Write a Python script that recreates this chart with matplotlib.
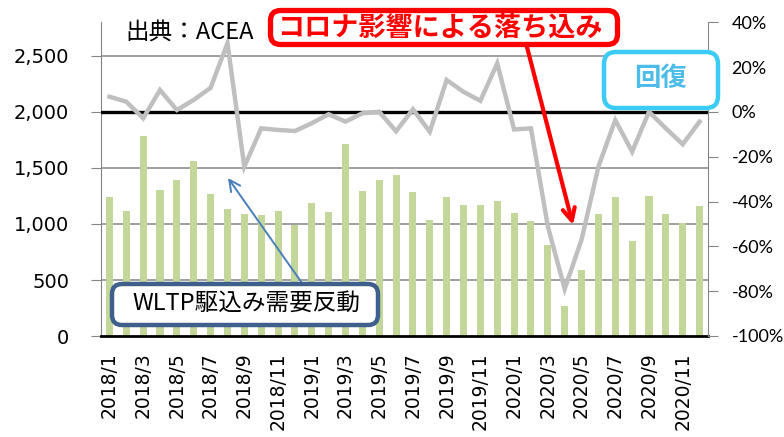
import numpy as np
import matplotlib.pyplot as plt
from matplotlib.patches import FancyBboxPatch

plt.rcParams['font.family'] = ['DejaVu Sans', 'Noto Sans CJK JP']

# 2018/1 .. 2020/12
months = [f'{y}/{m}' for y in (2018, 2019, 2020) for m in range(1, 13)]

# 販売台数 (千台)
sales = [1244, 1119, 1786, 1304, 1393, 1562, 1271, 1131, 1086, 1077, 1116, 991,
         1187, 1107, 1714, 1298, 1393, 1437, 1289, 1036, 1241, 1170, 1167, 1208,
         1098, 1027, 812, 268, 592, 1089, 1241, 848, 1253, 1089, 1009, 1158]

# 前年同月比 (%)
yoy = [6.8, 4.6, -2.8, 9.8, 0.9, 5.4, 10.8, 30.7, -24.4, -7.3, -8.0, -8.5,
       -5.0, -1.0, -4.3, -0.6, 0.1, -8.6, 1.2, -8.8, 14.3, 9.0, 5.0, 21.7,
       -7.8, -7.3, -51.0, -79.0, -57.0, -24.4, -3.6, -17.7, 0.1, -7.3, -14.4, -4.3]

left_ticks = [0, 500, 1000, 1500, 2000, 2500]
right_ticks = [-100, -80, -60, -40, -20, 0, 20, 40]

W, H = 784, 437
fig = plt.figure(figsize=(W / 100, H / 100), dpi=100)
ax = fig.add_axes([101 / W, 1 - 336 / H, 607 / W, 313.6 / H])

x = np.arange(len(months))
ax.bar(x, sales, width=0.42, color='#C4D79B', zorder=2)
ax.set_xlim(-0.5, len(months) - 0.5)
ax.set_ylim(0, 2800)
ax.set_yticks(left_ticks)
ax.set_yticklabels([f'{v:,}' for v in left_ticks], fontsize=14)
for v in left_ticks[1:]:
    if v == 2000:
        ax.axhline(v, color='black', lw=2.4, zorder=3)
    else:
        ax.axhline(v, color='#868686', lw=1.1, zorder=1)

ax.set_xticks(x[::2])
ax.set_xticklabels(months[::2], rotation=90, fontsize=13.5)
ax.tick_params(axis='x', length=0, pad=12)
ax.tick_params(axis='y', length=7, color='#868686', pad=16)
for s in ('top', 'right'):
    ax.spines[s].set_visible(False)
ax.spines['left'].set_color('#868686')
ax.spines['bottom'].set_color('black')
ax.spines['bottom'].set_linewidth(2)

ax2 = ax.twinx()
ax2.plot(x, yoy, color='#BFBFBF', lw=3.2, solid_joinstyle='miter', zorder=4)
ax2.set_ylim(-100, 40)
ax2.set_yticks(right_ticks)
ax2.set_yticklabels([f'{v}%' for v in right_ticks], fontsize=13, family=['Lato', 'DejaVu Sans'])
ax2.tick_params(axis='y', length=7, color='#868686', pad=10)
for s in ('top', 'left', 'bottom'):
    ax2.spines[s].set_visible(False)
ax2.spines['right'].set_color('#868686')

jp = ['Noto Sans CJK JP', 'DejaVu Sans']


def box(x0, y0, x1, y1, ec, lw, r):
    p = FancyBboxPatch((x0 / 100, (H - y1) / 100), (x1 - x0) / 100, (y1 - y0) / 100,
                       boxstyle=f'round,pad=0,rounding_size={r / 100}',
                       transform=fig.dpi_scale_trans, fc='white', ec=ec, lw=lw, zorder=5)
    fig.patches.append(p)


def fx(px, py):
    return px / W, 1 - py / H


fig.text(*fx(190, 32), '出典：ACEA', fontsize=17, family=jp, ha='center', va='center')

# red
box(270.5, 10.5, 617.5, 44.5, 'red', 3.8, 10)
fig.text(*fx(440, 28), 'コロナ影響による落ち込み', fontsize=19.5, family=jp,
         weight='bold', color='red', ha='center', va='center', zorder=6)
ax.annotate('', xy=fx(573, 225), xytext=fx(527, 47), xycoords='figure fraction',
            textcoords='figure fraction',
            arrowprops=dict(arrowstyle='->', color='red', lw=3, mutation_scale=22,
                            shrinkA=0, shrinkB=0), zorder=6)

# recovery
box(604, 52, 718, 108, '#3CCBF4', 3.2, 12)
fig.text(*fx(661, 78), '回復', fontsize=19, family=jp, weight='bold',
         color='#4BBDE8', ha='center', va='center', zorder=6)

# WLTP
box(112, 284, 378, 325, '#3F5F8C', 3.2, 10)
fig.text(*fx(246, 303), 'WLTP駆込み需要反動', fontsize=17, family=jp,
         ha='center', va='center', zorder=6)
ax.annotate('', xy=fx(228, 178), xytext=fx(302, 283), xycoords='figure fraction',
            textcoords='figure fraction',
            arrowprops=dict(arrowstyle='->', color='#4A7EBB', lw=1.4, mutation_scale=20,
                            shrinkA=0, shrinkB=0), zorder=6)

fig.savefig('out.png', dpi=100)
